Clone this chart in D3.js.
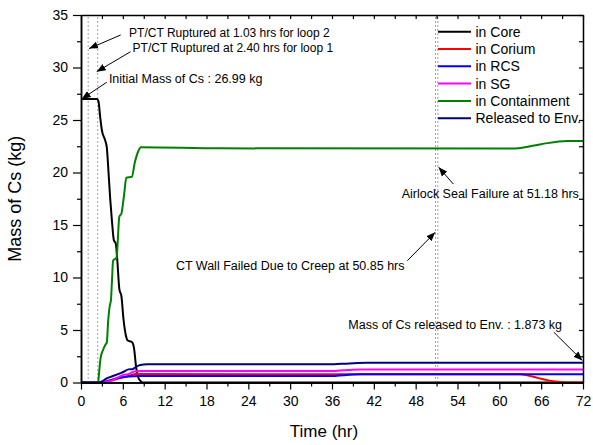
<!DOCTYPE html>
<html>
<head>
<meta charset="utf-8">
<script src="https://cdn.jsdelivr.net/npm/d3@7"></script>
<style>
  body { margin: 0; background: #fff; }
  svg { font-family: Arial, "Liberation Sans", sans-serif; }
</style>
</head>
<body>
<script>
// Data (time in hr, mass in kg)
const coreT = [0, 2.3, 2.5, 2.75, 3.0, 3.45, 3.7, 3.95, 4.2, 4.45, 4.7, 5.0, 5.2, 5.5, 5.8, 6.1, 6.4, 6.7, 7.3, 7.6, 7.9, 8.2, 8.6, 9.0, 72];
const coreV = [26.99, 26.99, 26.8, 25.3, 24.0, 23.1, 22.4, 20.0, 17.4, 15.3, 13.6, 13.2, 11.7, 8.9, 8.2, 6.0, 4.6, 4.0, 3.85, 3.3, 1.5, 0.5, 0.1, 0, 0];

const coriumT = [0, 3.0, 4.0, 5.0, 6.0, 7.0, 7.8, 8.5, 63, 64, 65, 66, 67, 68, 69, 70, 72];
const coriumV = [0, 0, 0.1, 0.3, 0.5, 0.65, 0.8, 0.8, 0.78, 0.68, 0.52, 0.35, 0.2, 0.1, 0.04, 0, 0];

const rcsT = [0, 2.8, 3.5, 4.5, 5.5, 6.5, 7.5, 8.2, 35.5, 40, 72];
const rcsV = [0, 0, 0.1, 0.3, 0.45, 0.55, 0.6, 0.62, 0.62, 0.78, 0.78];

const sgT = [0, 3.3, 4.2, 5.0, 6.0, 7.0, 7.6, 8.5, 35.5, 40, 72];
const sgV = [0, 0, 0.15, 0.4, 0.7, 0.85, 1.05, 1.09, 1.09, 1.25, 1.25];

const ctmtT = [0, 2.45, 2.6, 2.8, 3.1, 3.5, 3.7, 3.9, 4.1, 4.3, 4.45, 4.6, 5.1, 5.5, 5.8, 6.2, 6.5, 7.3, 7.7, 8.2, 8.6, 20, 62.3, 66, 69.7, 72];
const ctmtV = [0, 0, 1.0, 2.3, 3.0, 3.6, 3.8, 5.9, 7.2, 7.9, 9.8, 11.6, 11.9, 15.8, 16.1, 18.0, 19.5, 19.6, 20.9, 22.0, 22.4, 22.3, 22.28, 22.7, 23.0, 23.0];

const envT = [0, 2.5, 3.0, 3.7, 4.5, 5.6, 6.2, 6.8, 7.4, 7.9, 8.5, 9.5, 35.5, 38.5, 41, 72];
const envV = [0, 0, 0.1, 0.4, 0.6, 0.87, 1.05, 1.25, 1.27, 1.5, 1.67, 1.73, 1.73, 1.82, 1.873, 1.873];

const seriesNames = ['in Core', 'in Corium', 'in RCS', 'in SG', 'in Containment', 'Released to Env.'];
const seriesColors = ['#000000', '#ff0000', '#0000ff', '#ff00ff', '#008000', '#000080'];
const seriesT = [coreT, coriumT, rcsT, sgT, ctmtT, envT];
const seriesV = [coreV, coriumV, rcsV, sgV, ctmtV, envV];

const xTicks = d3.range(0, 73, 6);
const yTicks = d3.range(0, 36, 5);
const eventTimes = [1.03, 2.40, 50.85, 51.18];

// Annotations: text, anchor side, text position (data), arrow start and end (data)
const notes = [
  {text: 'PT/CT Ruptured at 1.03 hrs for loop 2', anchor: 'start', size: 12, tx: 6.9, ty: 33.3, from: [5.7, 33.1], to: [1.15, 31.8]},
  {text: 'PT/CT Ruptured at 2.40 hrs for loop 1', anchor: 'start', size: 12, tx: 7.4, ty: 31.9, from: [7.1, 31.5], to: [2.25, 29.6]},
  {text: 'Initial Mass of Cs : 26.99 kg', anchor: 'start', size: 12.5, tx: 4.0, ty: 28.9, from: [3.7, 28.6], to: [0.1, 27.0]},
  {text: 'Airlock Seal Failure at 51.18 hrs', anchor: 'end', size: 12.5, tx: 71.4, ty: 18.0, from: [53.4, 18.9], to: [51.3, 20.5]},
  {text: 'CT Wall Failed Due to Creep at 50.85 hrs', anchor: 'end', size: 12.5, tx: 46.4, ty: 11.1, from: [46.8, 11.6], to: [50.8, 14.3]},
  {text: 'Mass of Cs released to Env. : 1.873 kg', anchor: 'end', size: 12.5, tx: 69.0, ty: 5.5, from: [67.8, 4.8], to: [71.9, 2.1]}
];

let width = 593,
    height = 445;

let margin = {top: 15, right: 10, bottom: 62.5, left: 81};

let svg = d3.select('body')
  .append('svg')
    .attr('width', width)
    .attr('height', height);

let xScale = d3.scaleLinear()
  .domain([0, 72])
  .range([margin.left, width - margin.right]);

let yScale = d3.scaleLinear()
  .domain([0, 35])
  .range([height - margin.bottom, margin.top]);

let x0 = xScale.range()[0], x1 = xScale.range()[1];
let y0 = yScale.range()[0], y1 = yScale.range()[1];

// arrow head
svg.append('defs')
  .append('marker')
    .attr('id', 'arrow')
    .attr('viewBox', '0 0 10 10')
    .attr('refX', 10)
    .attr('refY', 5)
    .attr('markerWidth', 9)
    .attr('markerHeight', 9)
    .attr('markerUnits', 'userSpaceOnUse')
    .attr('orient', 'auto')
  .append('path')
    .attr('d', 'M0,1 L10,5 L0,9 Z')
    .attr('fill', '#000');

// event lines (dotted)
svg.selectAll('.event')
  .data(eventTimes)
  .enter()
  .append('line')
    .attr('class', 'event')
    .attr('x1', d => xScale(d))
    .attr('x2', d => xScale(d))
    .attr('y1', y0)
    .attr('y2', y1)
    .attr('stroke', '#444')
    .attr('stroke-width', 1)
    .attr('stroke-dasharray', '1,3');

// series
let line = d3.line()
  .x(d => xScale(d[0]))
  .y(d => yScale(d[1]))
  .curve(d3.curveMonotoneX);

seriesNames.forEach(function(name, i) {
  let pts = seriesT[i].map((t, j) => [t, seriesV[i][j]]);
  svg.append('path')
    .datum(pts)
    .attr('fill', 'none')
    .attr('stroke', seriesColors[i])
    .attr('stroke-width', 2)
    .attr('d', line);
});

// axes
function styleAxis(g) {
  g.select('.domain').attr('stroke', '#000').attr('stroke-width', 1.5);
  g.selectAll('.tick line').attr('stroke', '#000').attr('stroke-width', 1.2);
  g.selectAll('.tick text').attr('font-size', 14).attr('font-family', 'Arial, "Liberation Sans", sans-serif').attr('fill', '#000');
}

let xMinor = d3.range(3, 72, 6);
let yMinor = d3.range(2.5, 35, 5);

// bottom
svg.append('g')
  .attr('transform', `translate(0,${y0})`)
  .call(d3.axisBottom(xScale).tickValues(xMinor).tickSize(4).tickFormat('').tickSizeOuter(0))
  .call(styleAxis);
svg.append('g')
  .attr('transform', `translate(0,${y0})`)
  .call(d3.axisBottom(xScale).tickValues(xTicks).tickSize(7).tickPadding(7).tickSizeOuter(0))
  .call(styleAxis);

// left
svg.append('g')
  .attr('transform', `translate(${x0},0)`)
  .call(d3.axisLeft(yScale).tickValues(yMinor).tickSize(4).tickFormat('').tickSizeOuter(0))
  .call(styleAxis);
svg.append('g')
  .attr('transform', `translate(${x0},0)`)
  .call(d3.axisLeft(yScale).tickValues(yTicks).tickSize(8).tickPadding(5).tickSizeOuter(0))
  .call(styleAxis);

// top (ticks inward)
svg.append('g')
  .attr('transform', `translate(0,${y1})`)
  .call(d3.axisBottom(xScale).tickValues(xTicks.concat(xMinor)).tickSize(4).tickFormat('').tickSizeOuter(0))
  .call(styleAxis);

// right (ticks inward)
svg.append('g')
  .attr('transform', `translate(${x1},0)`)
  .call(d3.axisLeft(yScale).tickValues(yTicks.concat(yMinor)).tickSize(4).tickFormat('').tickSizeOuter(0))
  .call(styleAxis);

// axis titles
svg.append('text')
  .attr('x', 324)
  .attr('y', 437)
  .attr('text-anchor', 'middle')
  .attr('font-size', 17)
  .text('Time (hr)');

svg.append('text')
  .attr('transform', `translate(21,${(y0 + y1) / 2}) rotate(-90)`)
  .attr('text-anchor', 'middle')
  .attr('font-size', 18)
  .text('Mass of Cs (kg)');

// legend
let legend = svg.append('g');
seriesNames.forEach(function(name, i) {
  let ly = 31.7 + i * 17.3;
  legend.append('line')
    .attr('x1', 438).attr('x2', 471)
    .attr('y1', ly).attr('y2', ly)
    .attr('stroke', seriesColors[i])
    .attr('stroke-width', 2);
  legend.append('text')
    .attr('x', 475.5)
    .attr('y', ly)
    .attr('dy', '0.35em')
    .attr('font-size', 14)
    .text(name);
});

// annotations
let ann = svg.append('g');
notes.forEach(function(n) {
  ann.append('text')
    .attr('x', xScale(n.tx))
    .attr('y', yScale(n.ty))
    .attr('dy', '0.35em')
    .attr('text-anchor', n.anchor)
    .attr('font-size', n.size)
    .text(n.text);
  ann.append('line')
    .attr('x1', xScale(n.from[0]))
    .attr('y1', yScale(n.from[1]))
    .attr('x2', xScale(n.to[0]))
    .attr('y2', yScale(n.to[1]))
    .attr('stroke', '#000')
    .attr('stroke-width', 1)
    .attr('marker-end', 'url(#arrow)');
});
</script>
</body>
</html>
